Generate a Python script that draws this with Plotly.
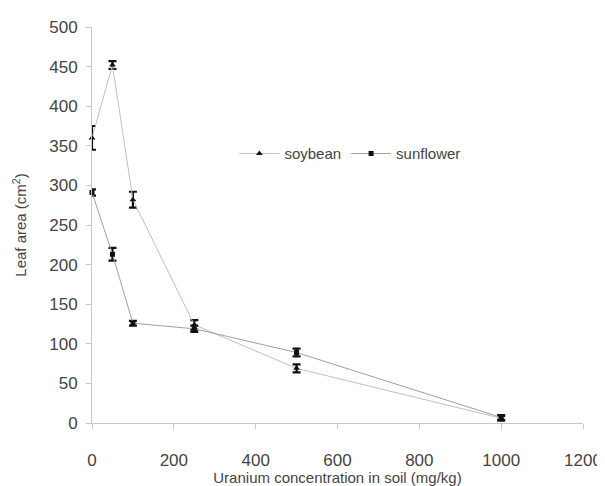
import plotly.graph_objects as go

conc = [0, 50, 100, 250, 500, 1000]
soy_area = [360, 452, 282, 124, 69, 6]
soy_err = [15, 5, 10, 6, 5, 3]
sun_area = [291, 213, 126, 119, 89, 7]
sun_err = [4, 8, 3, 4, 5, 3]

x_ticks = [0, 200, 400, 600, 800, 1000, 1200]
y_ticks = [0, 50, 100, 150, 200, 250, 300, 350, 400, 450, 500]

FONT = "Liberation Sans, Arial, sans-serif"

fig = go.Figure()
fig.add_trace(go.Scatter(
    x=conc, y=soy_area, name="soybean", mode="lines+markers", cliponaxis=False,
    line=dict(color="#c0c0c0", width=1),
    marker=dict(symbol="triangle-up", size=6, color="#111"),
    error_y=dict(type="data", array=soy_err, color="#111", thickness=2.2, width=4),
))
fig.add_trace(go.Scatter(
    x=conc, y=sun_area, name="sunflower", mode="lines+markers", cliponaxis=False,
    line=dict(color="#a0a0a0", width=1),
    marker=dict(symbol="square", size=5, color="#111"),
    error_y=dict(type="data", array=sun_err, color="#111", thickness=2.2, width=4),
))

fig.update_layout(
    width=597, height=478,
    margin=dict(l=84, r=22, t=19, b=63),
    paper_bgcolor="white", plot_bgcolor="white",
    font=dict(family=FONT, size=17, color="#444"),
    showlegend=True,
    legend=dict(orientation="h", x=0.29, y=0.68, xanchor="left", yanchor="middle",
                bgcolor="rgba(0,0,0,0)", font=dict(size=15, color="#444"),
                itemwidth=40, tracegroupgap=0),
)
fig.update_xaxes(
    range=[0, 1200], tickvals=x_ticks, ticktext=[str(v) for v in x_ticks],
    showline=True, linecolor="#c8c8c8", linewidth=1, automargin=False,
    ticks="outside", ticklen=5, tickcolor="#c8c8c8",
    showgrid=False, zeroline=False, ticklabelstandoff=17,
    title=dict(text="Uranium concentration in soil (mg/kg)", font=dict(size=15), standoff=0),
)
fig.update_yaxes(
    range=[0, 500], tickvals=y_ticks, ticktext=[str(v) for v in y_ticks],
    showline=True, linecolor="#c8c8c8", linewidth=1, automargin=False,
    ticks="outside", ticklen=5, tickcolor="#c8c8c8",
    showgrid=False, zeroline=False, ticklabelstandoff=5,
    title=dict(text="Leaf area (cm<sup>2</sup>)", font=dict(size=15), standoff=18),
)

fig.write_html("out.html")
